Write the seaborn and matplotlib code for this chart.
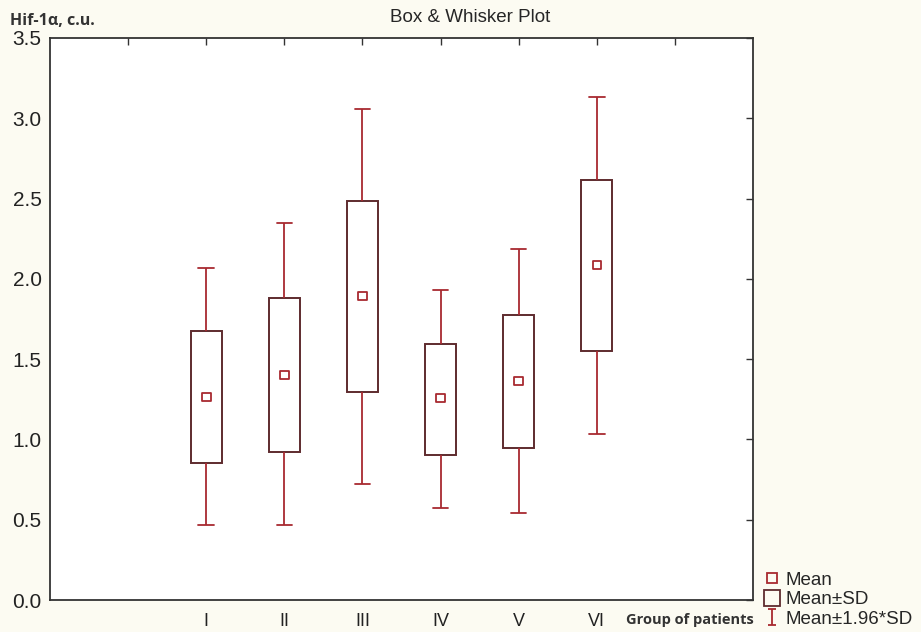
import numpy as np
import pandas as pd
import seaborn as sns
import matplotlib.pyplot as plt
from matplotlib.path import Path
from matplotlib.lines import Line2D

# group labels and summary stats
groups = ['I', 'II', 'III', 'IV', 'V', 'VI']
means = [1.264, 1.401, 1.893, 1.258, 1.364, 2.086]
sd_low = [0.853, 0.921, 1.295, 0.903, 0.946, 1.550]
sd_high = [1.675, 1.880, 2.484, 1.594, 1.775, 2.615]
ci_low = [0.467, 0.467, 0.722, 0.573, 0.542, 1.034]
ci_high = [2.067, 2.347, 3.057, 1.930, 2.186, 3.132]
y_ticks = [0.0, 0.5, 1.0, 1.5, 2.0, 2.5, 3.0, 3.5]

box_col = '#5e2b2e'
red = '#a82a30'
bg = '#fcfbf2'

sns.set_theme(style='white')
plt.rcParams['font.family'] = ['Liberation Sans', 'DejaVu Sans']

# 5 values per group -> quartiles land on mean+-SD, whiskers on mean+-1.96SD
rows = []
for i, g in enumerate(groups):
    for v in [ci_low[i], sd_low[i], means[i], sd_high[i], ci_high[i]]:
        rows.append({'pos': i + 2, 'val': v})
df = pd.DataFrame(rows)
mean_df = pd.DataFrame({'pos': np.arange(len(groups)) + 2, 'val': means})

fig = plt.figure(figsize=(9.21, 6.32), dpi=100, facecolor=bg)
ax = fig.add_axes([0.0543, 0.0506, 0.7633, 0.8893])
ax.set_facecolor('white')

sns.boxplot(data=df, x='pos', y='val', native_scale=True, width=0.4, whis=np.inf,
            ax=ax, linewidth=1.3,
            boxprops={'facecolor': 'white', 'edgecolor': box_col, 'linewidth': 1.4},
            whiskerprops={'color': red, 'linewidth': 1.3},
            capprops={'color': red, 'linewidth': 1.3},
            medianprops={'visible': False})
sns.scatterplot(data=mean_df, x='pos', y='val', marker='s', s=38, facecolor='none',
                edgecolor=red, linewidth=1.3, ax=ax, zorder=5)

ax.set_xlim(0, 9)
ax.set_ylim(0, 3.5)
ax.set_xticks(np.arange(1, 9))
ax.set_xticklabels([''] + groups + [''])
ax.set_yticks(y_ticks)
ax.set_yticklabels([f'{t:.1f}' for t in y_ticks])
ax.set_xlabel('')
ax.set_ylabel('')
ax.tick_params(direction='in', top=True, right=True, length=5, width=1, color='#333333',
               labelsize=13, colors='#222222')
ax.tick_params(axis='y', labelsize=15, pad=6)
ax.tick_params(axis='x', pad=9)
for s in ax.spines.values():
    s.set_color('#333333')
    s.set_linewidth(1.3)

fig.text(0.51, 0.972, 'Box & Whisker Plot', ha='center', va='center', fontsize=13.5)
fig.text(0.011, 0.967, 'Hif-1α, c.u.', ha='left', va='center', fontsize=11.5,
         fontweight='bold', family=['Open Sans', 'DejaVu Sans'], color='#333333')
fig.text(0.818, 0.019, 'Group of patients', ha='right', va='center', fontsize=10.5,
         fontweight='bold', family=['Open Sans', 'DejaVu Sans'], color='#333333')

ibeam = Path([(-0.5, 1), (0.5, 1), (0, 1), (0, -1), (-0.5, -1), (0.5, -1)],
             [Path.MOVETO, Path.LINETO, Path.MOVETO, Path.LINETO, Path.MOVETO, Path.LINETO])
handles = [
    Line2D([], [], ls='none', marker='s', markersize=7, markerfacecolor='none',
           markeredgecolor=red, markeredgewidth=1.3),
    Line2D([], [], ls='none', marker='s', markersize=12, markerfacecolor='none',
           markeredgecolor=box_col, markeredgewidth=1.3),
    Line2D([], [], ls='none', marker=ibeam, markersize=11, color=red, markeredgewidth=1.3),
]
fig.legend(handles, ['Mean', 'Mean±SD', 'Mean±1.96*SD'], loc='lower left',
           bbox_to_anchor=(0.815, -0.014), frameon=False, fontsize=13.5,
           handlelength=0.9, handletextpad=0.25, labelspacing=0.12, borderpad=0.2)

fig.savefig('out.png', dpi=100, facecolor=bg)
